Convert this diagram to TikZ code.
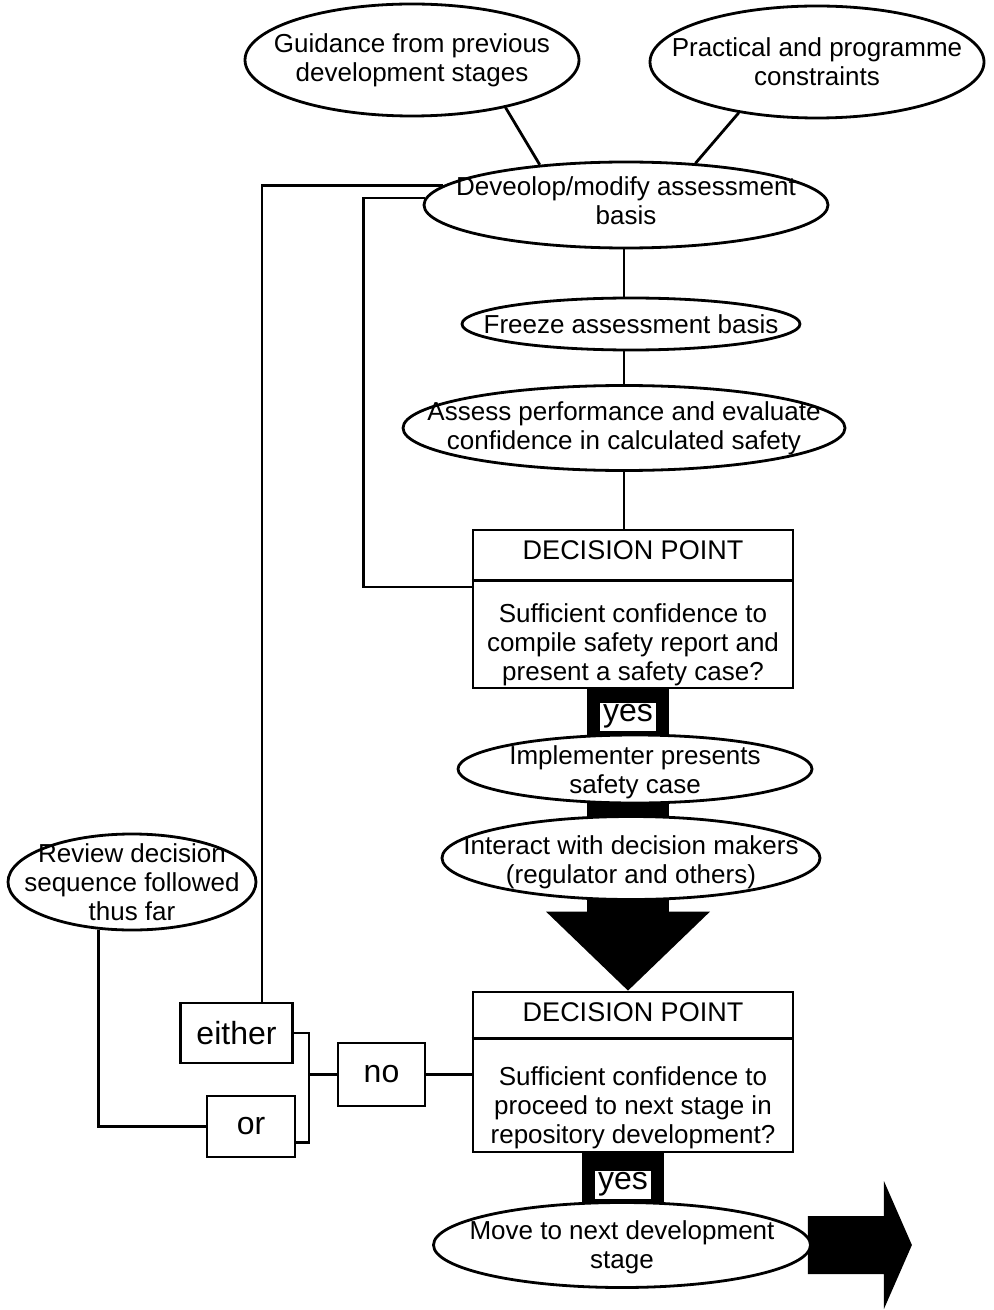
\documentclass[tikz,border=0pt]{standalone}
\usepackage{fontspec}
\setmainfont{Liberation Sans}
\usetikzlibrary{shapes.geometric, backgrounds}

\tikzset{
  oval/.style={ellipse, draw, fill=white, line width=1.4pt, inner sep=0pt},
  txt/.style={align=center, inner sep=0pt, font=\fontsize{13}{14.5}\selectfont},
  dpbox/.style={rectangle, draw, fill=white, line width=1.4pt, minimum width=160pt, minimum height=79pt},
  choice/.style={rectangle, draw, line width=1.4pt, inner sep=0pt, font=\fontsize{16}{18}\selectfont},
  yesbox/.style={fill=white, inner sep=0pt, minimum width=28pt, minimum height=14pt, font=\fontsize{16}{18}\selectfont},
  bar/.style={line width=41pt},
  link/.style={line width=1.4pt},
}

\begin{document}
\begin{tikzpicture}[x=0.5pt, y=-0.5pt]
\useasboundingbox (0,0) rectangle (994,1310);
\coordinate (axis) at (624,0);
\coordinate (spine) at (628,0);
\coordinate (spinelow) at (623,0);

% inputs
\node[oval, minimum width=167pt, minimum height=56pt] (guid) at (412,60) {};
\node[txt] (guidtxt) at (guid) {Guidance from previous\\development stages};
\node[oval, minimum width=167pt, minimum height=56pt] (prac) at (817,62) {};
\node[txt] (practxt) at (prac) {Practical and programme\\constraints};

% assessment loop
\node[oval, minimum width=202pt, minimum height=43pt] (dev) at (626,205) {};
\node[txt] (devtxt) at ([yshift=2pt]dev.center) {Deveolop/modify assessment\\basis};
\node[oval, minimum width=169pt, minimum height=26pt] (freeze) at (631,324) {};
\node[txt] (freezetxt) at (freeze) {Freeze assessment basis};
\node[oval, minimum width=221pt, minimum height=42.5pt] (assess) at (624,428) {};
\node[txt] (assesstxt) at (assess) {Assess performance and evaluate\\confidence in calculated safety};

\node[dpbox] (dp1) at (633,609) {};
\node[txt, font=\fontsize{13.5}{15}\selectfont] (dp1head) at ([yshift=-11pt]dp1.north) {DECISION POINT};
\node[txt] (dp1body) at ([yshift=-58pt]dp1.north) {Sufficient confidence to\\compile safety report and\\present a safety case?};
\draw[link] ([yshift=-26pt]dp1.north west) -- ([yshift=-26pt]dp1.north east);

% safety case
\node[oval, minimum width=177pt, minimum height=34pt] (impl) at (635,769) {};
\node[txt] (impltxt) at ([yshift=-1.5pt]impl.center) {Implementer presents\\safety case};
\node[oval, minimum width=189pt, minimum height=41.5pt] (inter) at (631,858) {};
\node[txt] (intertxt) at ([yshift=-2pt]inter.center) {Interact with decision makers\\(regulator and others)};

\node[dpbox, minimum height=80pt] (dp2) at (633,1072) {};
\node[txt, font=\fontsize{13.5}{15}\selectfont] (dp2head) at ([yshift=-11pt]dp2.north) {DECISION POINT};
\node[txt] (dp2body) at ([yshift=-58.5pt]dp2.north) {Sufficient confidence to\\proceed to next stage in\\repository development?};
\draw[link] ([yshift=-24pt]dp2.north west) -- ([yshift=-24pt]dp2.north east);

\node[oval, minimum width=188.5pt, minimum height=42.5pt] (move) at (622,1245) {};
\node[txt] (movetxt) at ([yshift=-1pt]move.center) {Move to next development\\stage};

% review branch
\node[oval, minimum width=124pt, minimum height=48pt] (rev) at (132,882) {};
\node[txt] (revtxt) at (rev) {Review decision\\sequence followed\\thus far};
\node[choice, minimum width=56pt, minimum height=30pt] (either) at (236.5,1033) {either};
\node[choice, minimum width=44pt, minimum height=30.5pt] (or) at (251,1126.5) {or};
\node[choice, minimum width=43.5pt, minimum height=31.5pt] (no) at (381.5,1074.5) {no};

\node[yesbox] (yes1) at (628,716.5) {yes};
\node[yesbox] (yes2) at (623,1184.5) {yes};

% connectors
\draw[link] (guid.-27) -- (dev.155);
\draw[link] (prac.-147) -- (dev.31);
\draw[link] (dev.south -| axis) -- (freeze.north -| axis);
\draw[link] (freeze.south -| axis) -- (assess.north -| axis);
\draw[link] (assess.south -| axis) -- (dp1.north -| axis);
\draw[link] ([yshift=11pt]dp1.west) -- ++(-108,0) |- (dev.178);
\draw[link] ([xshift=12.75pt]either.north) |- (dev.174);
\draw[link] (either.east) -- ++(15,0) coordinate (fork) |- ([yshift=-8pt]or.east);
\draw[link] (no.west) -- (no.west -| fork);
\draw[link] (no.east) -- (no.east -| dp2.west);
\draw[link] (rev.-125) |- (or.west);

% thick arrows
\begin{pgfonlayer}{background}
\draw[bar] (dp1.south -| spine) -- (impl.center -| spine);
\draw[bar] (impl.center -| spine) -- (inter.center -| spine);
\draw[bar] (inter.center -| spine) -- ++(0,60);
\fill (dp2.north -| spine) -- ++(-82,-79) -- ++(164,0) -- cycle;
\draw[bar] (dp2.south -| spinelow) -- (move.center -| spinelow);
\fill (move.east) ++(-4,-29) -- ++(76,0) -- ++(0,-35) -- ++(28,64) -- ++(-28,64) -- ++(0,-35) -- ++(-76,0) -- cycle;
\end{pgfonlayer}
\end{tikzpicture}
\end{document}
